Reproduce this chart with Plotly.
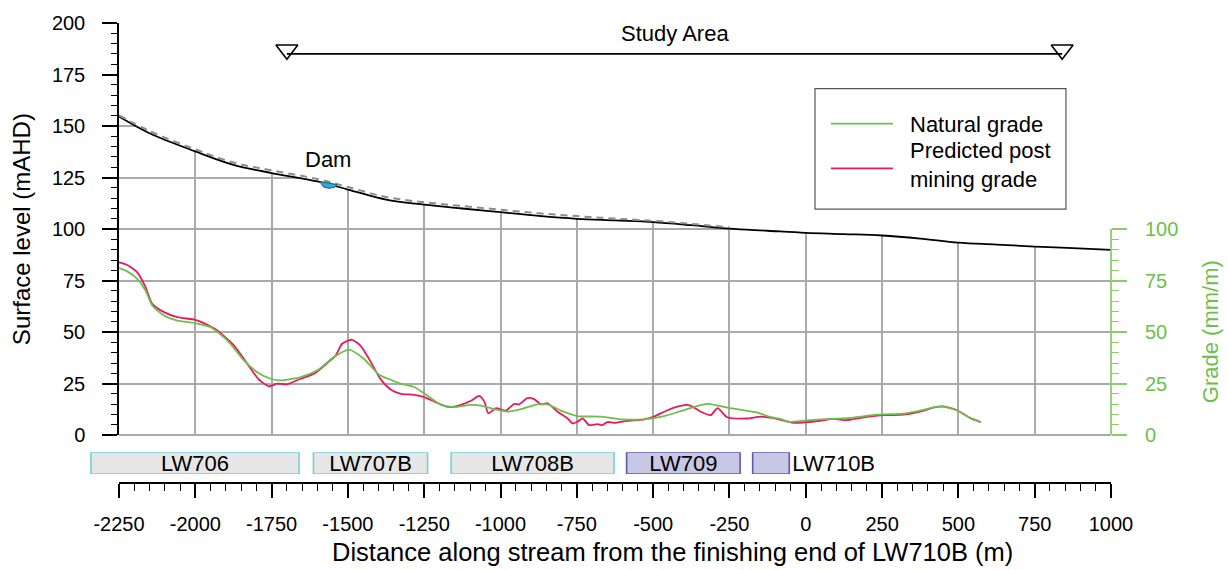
import plotly.graph_objects as go

# ---------------- data ----------------
surf_dist = [-2250, -2150, -2000, -1875, -1750, -1600, -1500, -1375, -1250, -1125, -1000,
             -875, -750, -625, -500, -375, -250, -125, 0, 125, 250, 375, 500, 625, 750, 875, 1000]
surf_post = [154.6, 146.5, 137.7, 131.2, 127.2, 123.1, 119.2, 114.3, 111.9, 110.0, 108.2,
             106.4, 105.0, 104.2, 103.4, 101.9, 100.2, 99.2, 98.2, 97.6, 96.9, 95.4, 93.4, 92.5, 91.5, 90.8, 89.9]

nat_surf_dist = [-2250, -2150, -2000, -1875, -1750, -1600, -1500, -1375, -1250, -1125, -1000,
                 -875, -750, -625, -500, -375, -250]
surf_nat = [155.2, 147.6, 138.7, 132.3, 128.5, 124.3, 120.4, 115.6, 113.0, 111.2, 109.4,
            107.7, 106.3, 105.1, 104.0, 102.5, 100.9]

dam_x = [-1592, -1580, -1562, -1543, -1535, -1592]
dam_y = [123.1, 120.4, 119.8, 120.3, 121.6, 123.1]

nat_grade_dist = [-2250, -2223, -2190, -2163, -2141, -2103, -2059, -2000, -1950, -1895, -1841,
                  -1797, -1753, -1720, -1655, -1600, -1546, -1497, -1448, -1399, -1360, -1327,
                  -1283, -1239, -1195, -1152, -1097, -1064, -1021, -977, -933, -879, -846, -802,
                  -748, -671, -606, -529, -464, -388, -322, -257, -182, -158, -117, -82, -51,
                  36, 145, 232, 320, 364, 440, 495, 538, 574]
nat_grade = [81.1, 79.5, 75.8, 70.2, 62.9, 58.1, 55.6, 54.4, 52.4, 46.0, 36.3,
             30.6, 27.4, 26.6, 28.2, 31.5, 37.9, 41.5, 37.1, 29.5, 26.9, 25.0,
             23.4, 19.1, 14.7, 13.6, 14.7, 14.4, 12.6, 11.4, 12.6, 15.0, 15.0, 11.9,
             9.3, 9.0, 7.7, 7.7, 9.3, 12.7, 15.2, 13.4, 11.6, 10.9, 8.9, 7.8, 6.5,
             7.6, 8.4, 10.0, 10.5, 11.6, 14.0, 12.1, 8.4, 6.3]

post_grade_dist = [-2250, -2223, -2190, -2163, -2141, -2103, -2059, -2000, -1972, -1928, -1873,
                   -1830, -1791, -1759, -1731, -1699, -1655, -1611, -1568, -1540, -1519, -1486,
                   -1459, -1431, -1393, -1359, -1326, -1283, -1250, -1217, -1184, -1163, -1130,
                   -1097, -1070, -1053, -1040, -1015, -983, -955, -939, -912, -890, -868, -846,
                   -813, -781, -764, -748, -731, -710, -682, -666, -650, -628, -584, -529, -497,
                   -464, -431, -388, -371, -344, -311, -289, -257, -191, -147, -95, -40, 36, 91,
                   134, 200, 254, 320, 364, 429, 451, 495, 538, 574]
post_grade = [83.9, 82.6, 79.0, 71.8, 63.7, 59.7, 57.3, 56.0, 54.4, 50.8, 43.5,
              34.7, 26.9, 23.7, 25.0, 24.7, 27.4, 29.8, 35.0, 38.7, 44.4, 46.3,
              43.5, 37.1, 27.2, 22.1, 20.1, 19.6, 18.5, 16.3, 14.2, 13.6, 14.7,
              16.7, 19.1, 16.3, 10.6, 13.1, 11.9, 15.2, 15.0, 18.0, 17.5, 15.0, 15.5,
              11.4, 8.2, 5.7, 6.5, 8.2, 4.9, 5.4, 4.9, 6.4, 6.0, 7.0, 7.7, 9.0,
              11.4, 13.4, 14.7, 13.9, 11.4, 9.8, 13.1, 8.7, 8.1, 9.0, 7.9, 6.0, 6.8, 7.9,
              7.3, 8.9, 9.7, 10.0, 11.1, 13.7, 14.0, 12.1, 8.4, 6.3]

lw_names = ["LW706", "LW707B", "LW708B", "LW709", "LW710B"]
lw_start = [-2342, -1613, -1162, -587, -174]
lw_end = [-1660, -1239, -628, -215, -54]
lw_fill = ["#e6e6e6", "#e6e6e6", "#e6e6e6", "#c8c8e6", "#c8c8e6"]
lw_edge = ["#72cfdc", "#72cfdc", "#72cfdc", "#5b5bab", "#5b5bab"]
lw_textpos = ["inside", "inside", "inside", "inside", "outside"]

study_start, study_end, study_level = -1700, 840, 185
x_ticks = list(range(-2250, 1001, 250))
y_ticks = list(range(0, 201, 25))
grade_ticks = [0, 25, 50, 75, 100]

# ---------------- layout geometry ----------------
W, H = 1228, 570
ML, MR, MT, MB = 60, 117, 21, 87
plot_left_px = 119
x_min, x_max = -2250, 1000
y_min, y_max = 0, 200
d0 = (plot_left_px - ML) / (W - ML - MR)
paper_h = H - MT - MB
y_dom0 = 48 / paper_h
x2_left = x_min - d0 / (1 - d0) * (x_max - x_min)

FONT = "Liberation Sans, Arial, sans-serif"
GRID = "#aaaaaa"
GREEN = "#6cbf4a"
GREEN_AX = "#8ccb6c"
PINK = "#e8195c"

fig = go.Figure()

# white mask above the ground surface (hides grid above the terrain)
fig.add_trace(go.Scatter(x=[surf_dist[0], surf_dist[-1]], y=[y_max, y_max], mode="lines",
                         line=dict(width=0, color="white"), hoverinfo="skip", showlegend=False))
fig.add_trace(go.Scatter(x=surf_dist, y=surf_post, mode="lines", fill="tonexty",
                         fillcolor="white", line=dict(color="black", width=1.8, shape="spline"),
                         name="Post mining surface", showlegend=False))
fig.add_trace(go.Scatter(x=nat_surf_dist, y=surf_nat, mode="lines",
                         line=dict(color="#8c8c8c", width=2, dash="7px,5px", shape="spline"),
                         name="Natural surface", showlegend=False))
fig.add_trace(go.Scatter(x=dam_x, y=dam_y, mode="lines", fill="toself", fillcolor="#2aa9e0",
                         line=dict(color="#1e5a78", width=1), name="Dam", showlegend=False))

# study area
fig.add_trace(go.Scatter(x=[study_start, study_end], y=[study_level, study_level], mode="lines",
                         line=dict(color="black", width=1.6), showlegend=False, hoverinfo="skip"))
fig.add_trace(go.Scatter(x=[study_start, study_end], y=[study_level + 2, study_level + 2], mode="markers",
                         marker=dict(symbol="triangle-down-open", size=19, color="black",
                                     line=dict(width=1.6, color="black")),
                         showlegend=False, hoverinfo="skip"))

# grades
fig.add_trace(go.Scatter(x=post_grade_dist, y=post_grade, mode="lines", yaxis="y2",
                         line=dict(color=PINK, width=1.8, shape="spline", smoothing=0.6),
                         name="Predicted post mining grade", showlegend=False))
fig.add_trace(go.Scatter(x=nat_grade_dist, y=nat_grade, mode="lines", yaxis="y2",
                         line=dict(color=GREEN, width=1.8, shape="spline", smoothing=0.6),
                         name="Natural grade", showlegend=False))

# longwall panels
fig.add_trace(go.Bar(
    x=[e - s for s, e in zip(lw_start, lw_end)], base=lw_start, y=[0] * len(lw_names),
    orientation="h", width=1, xaxis="x2", yaxis="y3",
    marker=dict(color=lw_fill, line=dict(color=lw_edge, width=1.6)),
    text=lw_names, textposition=lw_textpos, insidetextanchor="middle", constraintext="none",
    textfont=dict(size=22, color="black", family=FONT), cliponaxis=False,
    showlegend=False, hoverinfo="skip"))

fig.update_layout(
    width=W, height=H, margin=dict(l=ML, r=MR, t=MT, b=MB),
    paper_bgcolor="white", plot_bgcolor="white",
    font=dict(family=FONT, size=20, color="black"),
    showlegend=False,
    xaxis=dict(domain=[d0, 1], range=[x_min, x_max], anchor="free", position=0,
               tickvals=x_ticks, ticktext=[str(v) for v in x_ticks],
               showline=True, linecolor="black", linewidth=1.5,
               ticks="outside", ticklen=14, tickwidth=1.5, tickcolor="black",
               ticklabelstandoff=9,
               minor=dict(dtick=50, ticks="outside", ticklen=7, tickwidth=1.2, tickcolor="black"),
               showgrid=True, gridcolor=GRID, gridwidth=1.5, zeroline=False,
               tickfont=dict(size=20)),
    yaxis=dict(domain=[y_dom0, 1], range=[y_min, y_max], tickvals=y_ticks,
               showline=True, linecolor="black", linewidth=1.5,
               ticks="outside", ticklen=15, tickwidth=1.5, tickcolor="black",
               ticklabelstandoff=13,
               minor=dict(dtick=5, ticks="outside", ticklen=6, tickwidth=1.2, tickcolor="black"),
               showgrid=True, gridcolor=GRID, gridwidth=1.5,
               zeroline=True, zerolinecolor=GRID, zerolinewidth=1.5,
               title=dict(text="Surface level (mAHD)", font=dict(size=24), standoff=14),
               tickfont=dict(size=20)),
    yaxis2=dict(overlaying="y", side="right", anchor="free", position=1, range=[y_min, y_max],
                tickvals=grade_ticks, showline=False, showgrid=False, zeroline=False,
                ticks="outside", ticklen=15, tickwidth=1.5, tickcolor=GREEN_AX,
                ticklabelstandoff=14,
                minor=dict(tickmode="array", tickvals=list(range(0, 101, 5)), ticks="outside",
                           ticklen=7, tickwidth=1.2, tickcolor=GREEN_AX),
                tickfont=dict(size=20, color=GREEN)),
    xaxis2=dict(domain=[0, 1], range=[x2_left, x_max], anchor="y3", visible=False),
    yaxis3=dict(domain=[9 / paper_h, 31 / paper_h], range=[-0.5, 0.5], anchor="x2", visible=False),
)

# right axis line only over the grade range
fig.add_shape(type="line", xref="paper", yref="y2", x0=1, x1=1, y0=grade_ticks[0], y1=grade_ticks[-1],
              line=dict(color=GREEN_AX, width=1.8))

# annotations
fig.add_annotation(x=(study_start + study_end) / 2, y=195, xref="x", yref="y", text="Study Area",
                   showarrow=False, font=dict(size=22), yanchor="middle")
fig.add_annotation(x=-1565, y=134, xref="x", yref="y", text="Dam",
                   showarrow=False, font=dict(size=22), yanchor="middle")
fig.add_annotation(x=0.5575, y=-0.1494, xref="x domain", yref="paper",
                   text="Distance along stream from the finishing end of LW710B (m)",
                   showarrow=False, font=dict(size=25.5), yanchor="middle", xanchor="center")
fig.add_annotation(x=1.0998, y=0.25, xref="x domain", yref="y domain", text="Grade (mm/m)",
                   textangle=-90, showarrow=False, font=dict(size=22, color=GREEN),
                   xanchor="center", yanchor="middle")

# manual legend box
fig.add_shape(type="rect", xref="x domain", yref="y domain", x0=0.7016, x1=0.9546, y0=0.5483, y1=0.8406,
              line=dict(color="#555555", width=1.2), fillcolor="white")
fig.add_shape(type="line", xref="x domain", yref="y domain", x0=0.7177, x1=0.7802, y0=0.7560, y1=0.7560,
              line=dict(color=GREEN, width=1.8))
fig.add_shape(type="line", xref="x domain", yref="y domain", x0=0.7177, x1=0.7802, y0=0.6473, y1=0.6473,
              line=dict(color=PINK, width=1.8))
fig.add_annotation(x=0.7954, y=0.7536, xref="x domain", yref="y domain", text="Natural grade",
                   showarrow=False, font=dict(size=22), xanchor="left", yanchor="middle", align="left")
fig.add_annotation(x=0.7954, y=0.6546, xref="x domain", yref="y domain",
                   text="Predicted post<br>mining grade",
                   showarrow=False, font=dict(size=22), xanchor="left", yanchor="middle", align="left")

fig.write_html("out.html")
